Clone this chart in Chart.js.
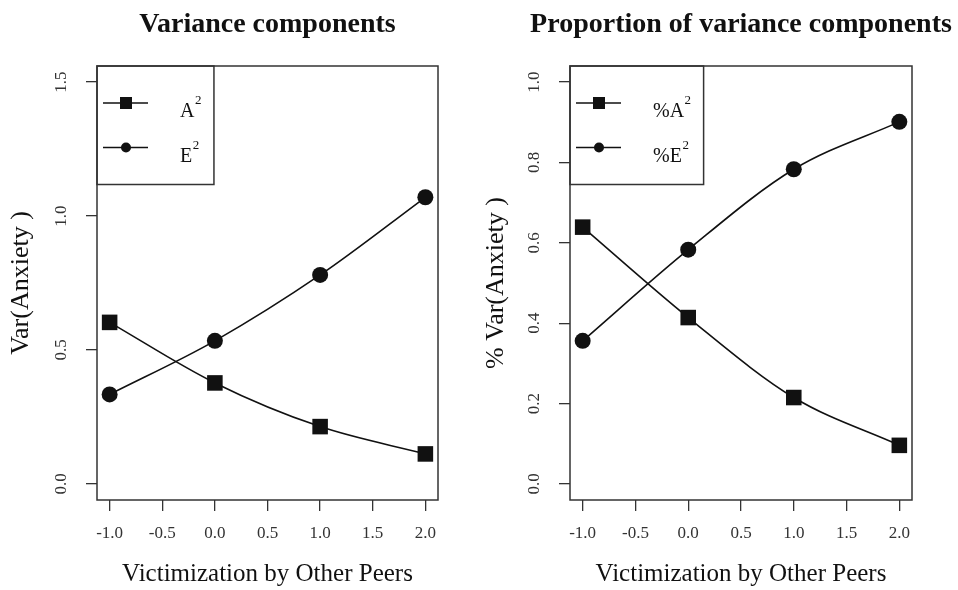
<!DOCTYPE html>
<html>
<head>
<meta charset="utf-8">
<script src="https://cdn.jsdelivr.net/npm/chart.js@4.4.1/dist/chart.umd.min.js"></script>
<style>
  html, body { margin: 0; padding: 0; background: #fff; }
  #wrap { position: relative; width: 958px; height: 590px; }
  canvas { position: absolute; top: 0; }
  #left-chart { left: 0; }
  #right-chart { left: 479px; }
</style>
</head>
<body>
<div id="wrap">
  <canvas id="left-chart" width="479" height="590"></canvas>
  <canvas id="right-chart" width="479" height="590"></canvas>
</div>
<script>
// values
const victimization = [-1, 0, 1, 2];
const varA2 = [0.603, 0.377, 0.214, 0.112];
const varE2 = [0.334, 0.534, 0.780, 1.070];
const propA2 = [0.639, 0.414, 0.215, 0.096];
const propE2 = [0.356, 0.583, 0.783, 0.901];

const xTicks = [-1, -0.5, 0, 0.5, 1, 1.5, 2];
const varTicks = [0, 0.5, 1, 1.5];
const propTicks = [0, 0.2, 0.4, 0.6, 0.8, 1];

const SERIF = '"Liberation Serif", "Times New Roman", serif';
const INK = "#111";
const AXIS = "#333";

function points(ys) {
  return victimization.map((x, i) => ({ x, y: ys[i] }));
}

// box, title, rotated y tick labels and the boxed legend, R style
const decor = {
  id: "decor",
  afterDraw(chart, args, opts) {
    const { ctx, chartArea: area } = chart;
    ctx.save();

    ctx.strokeStyle = AXIS;
    ctx.lineWidth = 1.5;
    ctx.strokeRect(area.left, area.top, area.right - area.left, area.bottom - area.top);

    ctx.fillStyle = INK;
    ctx.font = `bold 28px ${SERIF}`;
    ctx.textAlign = "center";
    ctx.textBaseline = "alphabetic";
    ctx.fillText(opts.title, (area.left + area.right) / 2, 32);

    const yScale = chart.scales.y;
    ctx.font = `17px ${SERIF}`;
    ctx.fillStyle = "#333";
    ctx.textBaseline = "middle";
    for (const tick of yScale.ticks) {
      const y = yScale.getPixelForValue(tick.value);
      ctx.save();
      ctx.translate(area.left - 35, y);
      ctx.rotate(-Math.PI / 2);
      ctx.fillText(tick.value.toFixed(1), 0, 0);
      ctx.restore();
    }

    // legend
    const supFont = `13px ${SERIF}`;
    let widest = 0;
    for (const item of opts.legend) {
      ctx.font = `20px ${SERIF}`;
      let w = ctx.measureText(item.base).width;
      ctx.font = supFont;
      w += ctx.measureText(item.sup).width;
      widest = Math.max(widest, w);
    }
    const boxW = 83 + widest + 13;
    const boxH = 118.5;
    ctx.strokeStyle = AXIS;
    ctx.lineWidth = 1.5;
    ctx.strokeRect(area.left, area.top, boxW, boxH);

    const rows = [37, 81.5];
    opts.legend.forEach((item, i) => {
      const y = area.top + rows[i];
      ctx.strokeStyle = INK;
      ctx.lineWidth = 1.6;
      ctx.beginPath();
      ctx.moveTo(area.left + 6, y);
      ctx.lineTo(area.left + 51, y);
      ctx.stroke();
      ctx.fillStyle = INK;
      const cx = area.left + 29;
      if (item.shape === "rect") {
        ctx.fillRect(cx - 6, y - 6, 12, 12);
      } else {
        ctx.beginPath();
        ctx.arc(cx, y, 5, 0, Math.PI * 2);
        ctx.fill();
      }
      ctx.textAlign = "left";
      ctx.textBaseline = "alphabetic";
      ctx.font = `20px ${SERIF}`;
      const tx = area.left + 83;
      ctx.fillText(item.base, tx, y + 14);
      const bw = ctx.measureText(item.base).width;
      ctx.font = supFont;
      ctx.fillText(item.sup, tx + bw + 0.5, y + 1);
    });

    ctx.restore();
  },
};

function lineSet(label, ys, shape) {
  return {
    label,
    data: points(ys),
    borderColor: INK,
    borderWidth: 1.6,
    pointStyle: shape,
    pointRadius: shape === "rect" ? 11 : 8,
    pointBackgroundColor: INK,
    pointBorderWidth: 0,
    cubicInterpolationMode: "monotone",
    fill: false,
  };
}

function buildPanel(canvasId, cfg) {
  return new Chart(document.getElementById(canvasId), {
    type: "line",
    data: {
      datasets: [
        lineSet(cfg.legend[0].base + cfg.legend[0].sup, cfg.a2, "rect"),
        lineSet(cfg.legend[1].base + cfg.legend[1].sup, cfg.e2, "circle"),
      ],
    },
    options: {
      responsive: false,
      animation: false,
      events: [],
      layout: { padding: { top: 66, right: cfg.padRight, bottom: 0, left: 0 } },
      plugins: {
        legend: { display: false },
        tooltip: { enabled: false },
        decor: { title: cfg.title, legend: cfg.legend },
      },
      scales: {
        x: {
          type: "linear",
          min: -1.12,
          max: 2.12,
          afterBuildTicks(scale) {
            scale.ticks = xTicks.map((v) => ({ value: v }));
          },
          afterFit(scale) {
            scale.height = 90;
          },
          border: { display: false },
          grid: { drawOnChartArea: false, drawTicks: true, tickLength: 11, color: AXIS, lineWidth: 1.3 },
          ticks: {
            font: { family: SERIF, size: 17 },
            color: "#333",
            padding: 12,
            maxRotation: 0,
            autoSkip: false,
            callback: (v) => Number(v).toFixed(1),
          },
          title: {
            display: true,
            text: "Victimization by Other Peers",
            font: { family: SERIF, size: 25 },
            color: INK,
            padding: { top: 0, bottom: 1 },
          },
        },
        y: {
          min: cfg.yMin,
          max: cfg.yMax,
          afterBuildTicks(scale) {
            scale.ticks = cfg.yTicks.map((v) => ({ value: v }));
          },
          afterFit(scale) {
            scale.width = cfg.yWidth;
          },
          border: { display: false },
          grid: { drawOnChartArea: false, drawTicks: true, tickLength: 11, color: AXIS, lineWidth: 1.3 },
          ticks: { display: false },
          title: {
            display: true,
            text: cfg.yTitle,
            font: { family: SERIF, size: 26 },
            color: INK,
            padding: { top: cfg.yTitlePad, bottom: 0 },
          },
        },
      },
    },
    plugins: [decor],
  });
}

buildPanel("left-chart", {
  title: "Variance components",
  yTitle: "Var(Anxiety )",
  a2: varA2,
  e2: varE2,
  yTicks: varTicks,
  yMin: -0.06,
  yMax: 1.56,
  yWidth: 97,
  padRight: 41,
  yTitlePad: 6,
  legend: [
    { base: "A", sup: "2", shape: "rect" },
    { base: "E", sup: "2", shape: "circle" },
  ],
});

buildPanel("right-chart", {
  title: "Proportion of variance components",
  yTitle: "% Var(Anxiety )",
  a2: propA2,
  e2: propE2,
  yTicks: propTicks,
  yMin: -0.04,
  yMax: 1.04,
  yWidth: 91,
  padRight: 46,
  yTitlePad: 2,
  legend: [
    { base: "%A", sup: "2", shape: "rect" },
    { base: "%E", sup: "2", shape: "circle" },
  ],
});
</script>
</body>
</html>
